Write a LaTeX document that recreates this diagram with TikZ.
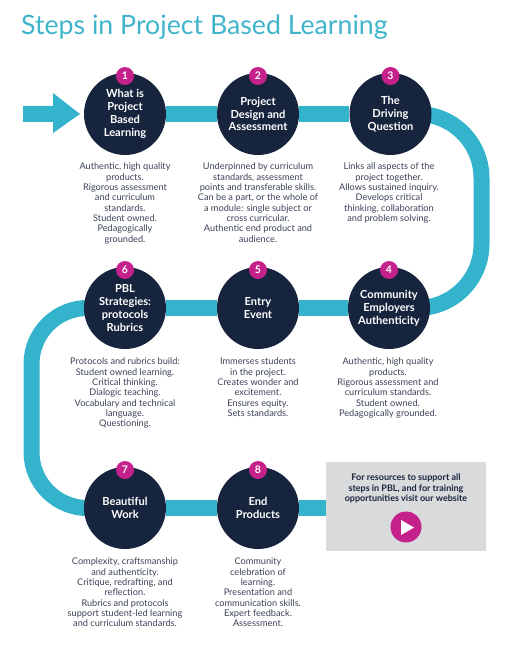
\documentclass[tikz,border=0pt]{standalone}
\usepackage{fontspec}
\setmainfont{Lato}
\definecolor{teal1}{HTML}{34B4CC}
\definecolor{navy1}{HTML}{16243D}
\definecolor{mag1}{HTML}{C5218A}
\definecolor{grey1}{HTML}{D9DADC}
\definecolor{body1}{HTML}{3A4256}
\definecolor{title1}{HTML}{3FB4CB}
\pgfdeclarelayer{bg}
\pgfsetlayers{bg,main}
\tikzset{
  stepcircle/.style={circle,fill=navy1,text=white,minimum size=82pt,inner sep=0pt,align=center,
    font=\bfseries\fontsize{11.1}{12.9}\selectfont},
  badge/.style={circle,fill=mag1,text=white,minimum size=18pt,inner sep=0pt,
    font=\bfseries\fontsize{10.5}{11}\selectfont},
  desc/.style={anchor=north,align=center,text=body1,inner sep=0pt,
    font=\fontsize{9.2}{10.3}\selectfont},
  band/.style={draw=teal1,line width=16pt},
}
\begin{document}
\begin{tikzpicture}[x=1pt,y=-1pt]
\useasboundingbox (0,0) rectangle (512,650);
\node[anchor=base west,inner sep=0pt,text=title1,font=\fontsize{26.7}{30}\selectfont] (title) at (21,35) {Steps in Project Based Learning};

\node[fill=grey1,minimum width=160pt,minimum height=89pt,inner sep=0pt,anchor=north west] (box) at (326,462) {};
\coordinate (c1) at (481.5,114);
\coordinate (c2) at (481.5,308);
\coordinate (c3) at (31.5,308);
\coordinate (c4) at (31.5,508);

\node[stepcircle] (n1) at (125,114) {What is\\Project\\Based\\Learning};
\node[stepcircle] (n2) at (258,114) {Project\\Design and\\Assessment};
\node[stepcircle] (n3) at (390.5,114) {The\\Driving\\Question};
\node[stepcircle] (n4) at (389,308) {Community\\Employers\\Authenticity};
\node[stepcircle] (n5) at (258,308) {Entry\\Event};
\node[stepcircle] (n6) at (125,308) {PBL\\Strategies:\\protocols\\Rubrics};
\node[stepcircle] (n7) at (125,508) {Beautiful\\Work};
\node[stepcircle] (n8) at (258,508) {End\\Products};

\begin{pgfonlayer}{bg}
\draw[band] (n1) -- (n2);
\draw[band] (n2) -- (n3);
\draw[band,rounded corners=64pt] (n3.center) -- (c1) -- (c2) -- (n4.center);
\draw[band] (n4) -- (n5);
\draw[band] (n5) -- (n6);
\draw[band,rounded corners=56pt] (n6.center) -- (c3) -- (c4) -- (n7.center);
\draw[band] (n7) -- (n8);
\draw[band] (n8) -- (n8 -| box.west);
\end{pgfonlayer}

\fill[teal1] (23,106) -- (53,106) -- (53,93) -- (80,114) -- (53,133) -- (53,122) -- (23,122) -- cycle;

\node[badge] (b1) at (125,76) {1};
\node[badge] (b2) at (258,76) {2};
\node[badge] (b3) at (390.5,76) {3};
\node[badge] (b4) at (389,270) {4};
\node[badge] (b5) at (258,270) {5};
\node[badge] (b6) at (125,270) {6};
\node[badge] (b7) at (125,470) {7};
\node[badge] (b8) at (258,470) {8};

\node[desc] (d1) at (125,163) {Authentic, high quality\\products.\\Rigorous assessment\\and curriculum\\standards.\\Student owned.\\Pedagogically\\grounded.};
\node[desc] (d2) at (258,163) {Underpinned by curriculum\\standards, assessment\\points and transferable skills.\\Can be a part, or the whole of\\a module: single subject or\\cross curricular.\\Authentic end product and\\audience.};
\node[desc] (d3) at (389,163) {Links all aspects of the\\project together.\\Allows sustained inquiry.\\Develops critical\\thinking, collaboration\\and problem solving.};
\node[desc] (d4) at (388,358) {Authentic, high quality\\products.\\Rigorous assessment and\\curriculum standards.\\Student owned.\\Pedagogically grounded.};
\node[desc] (d5) at (258,358) {Immerses students\\in the project.\\Creates wonder and\\excitement.\\Ensures equity.\\Sets standards.};
\node[desc] (d6) at (125,358) {Protocols and rubrics build:\\Student owned learning.\\Critical thinking.\\Dialogic teaching.\\Vocabulary and technical\\language.\\Questioning.};
\node[desc] (d7) at (125,558) {Complexity, craftsmanship\\and authenticity.\\Critique, redrafting, and\\reflection.\\Rubrics and protocols\\support student-led learning\\and curriculum standards.};
\node[desc] (d8) at (258,558) {Community\\celebration of\\learning.\\Presentation and\\communication skills.\\Expert feedback.\\Assessment.};

\node[anchor=north,align=center,text=navy1,inner sep=0pt,font=\bfseries\fontsize{9}{10.7}\selectfont] (cta) at (406,473.5) {For resources to support all\\steps in PBL, and for training\\opportunities visit our website};
\node[circle,fill=mag1,minimum size=31pt,inner sep=0pt] (play) at (406,527) {};
\fill[white] (401,520) -- (414,527.5) -- (401,535) -- cycle;
\end{tikzpicture}
\end{document}
